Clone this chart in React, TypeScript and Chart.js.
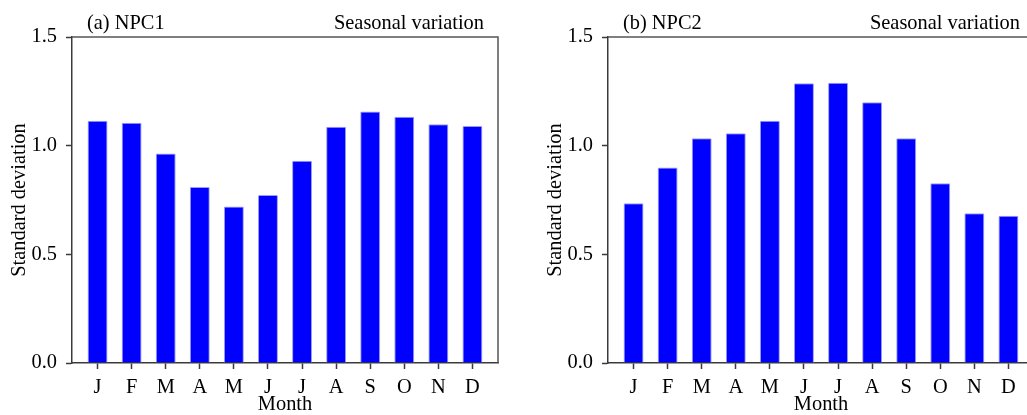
import React, { useEffect, useRef } from "react";
import { Chart, registerables } from "chart.js";

Chart.register(...registerables);

const MONTHS = ["J", "F", "M", "A", "M", "J", "J", "A", "S", "O", "N", "D"];
const NPC1_STD = [1.115, 1.106, 0.964, 0.81, 0.72, 0.773, 0.931, 1.087, 1.157, 1.133, 1.098, 1.091];
const NPC2_STD = [0.735, 0.9, 1.034, 1.057, 1.115, 1.287, 1.29, 1.2, 1.034, 0.827, 0.689, 0.678];
const Y_TICKS = [0, 0.5, 1.0, 1.5];
const PANEL_TITLES = ["(a) NPC1", "(b) NPC2"];
const RIGHT_TITLE = "Seasonal variation";

const FONT = "'Liberation Serif', 'Times New Roman', serif";
const AXIS_COLOR = "#3a3a3a";

function makeChart(canvas: HTMLCanvasElement, values: number[], title: string) {
  const titlePlugin = {
    id: "panelTitles",
    afterDraw(chart: any) {
      const { ctx, chartArea } = chart;
      ctx.save();
      ctx.strokeStyle = "#555";
      ctx.lineWidth = 1.5;
      ctx.beginPath();
      ctx.moveTo(chartArea.left, chartArea.top);
      ctx.lineTo(chartArea.right, chartArea.top);
      ctx.lineTo(chartArea.right, chartArea.bottom);
      ctx.stroke();
      ctx.fillStyle = "#000";
      ctx.font = `20.4px ${FONT}`;
      ctx.textBaseline = "alphabetic";
      ctx.textAlign = "left";
      ctx.fillText(title, chartArea.left + 15, chartArea.top - 8);
      ctx.textAlign = "right";
      ctx.fillText(RIGHT_TITLE, chartArea.right - 14, chartArea.top - 8);
      ctx.restore();
    },
  };

  return new Chart(canvas, {
    type: "bar",
    data: {
      datasets: [
        {
          data: values.map((v, i) => ({ x: i + 1, y: v })),
          backgroundColor: "#0000ff",
          borderColor: "#9c9cf4",
          borderWidth: 1,
          borderRadius: 1,
          barPercentage: 0.585,
          categoryPercentage: 1,
        },
      ],
    },
    options: {
      animation: false,
      responsive: false,
      devicePixelRatio: 1,
      layout: { padding: { top: 37, right: 22, left: 0, bottom: 0 } },
      plugins: { legend: { display: false }, tooltip: { enabled: false } },
      scales: {
        x: {
          type: "linear",
          min: 0.25,
          max: 12.75,
          offset: false,
          afterBuildTicks(scale: any) {
            scale.ticks = MONTHS.map((_, i) => ({ value: i + 1 }));
          },
          afterFit(scale: any) {
            scale.height = 52;
          },
          ticks: {
            autoSkip: false,
            maxRotation: 0,
            padding: 6,
            color: "#000",
            font: { family: FONT, size: 20.4 },
            callback: (v: any) => MONTHS[Math.round(Number(v)) - 1] ?? "",
          },
          grid: {
            drawOnChartArea: false,
            drawTicks: true,
            tickLength: 6,
            tickWidth: 1.5,
            tickColor: AXIS_COLOR,
            offset: false,
          },
          border: { display: true, color: AXIS_COLOR, width: 1.5 },
          title: {
            display: true,
            text: "Month",
            color: "#000",
            font: { family: FONT, size: 20.4, lineHeight: 1.0 },
            padding: { top: 0, bottom: 0 },
          },
        },
        y: {
          min: 0,
          max: 1.5,
          afterBuildTicks(scale: any) {
            scale.ticks = Y_TICKS.map((v) => ({ value: v }));
          },
          afterFit(scale: any) {
            scale.width = 72;
          },
          ticks: {
            padding: 9,
            color: "#000",
            font: { family: FONT, size: 20.4 },
            callback: (v: any) => Number(v).toFixed(1),
          },
          grid: {
            drawOnChartArea: false,
            drawTicks: true,
            tickLength: 6,
            tickWidth: 1.5,
            tickColor: AXIS_COLOR,
          },
          border: { display: true, color: AXIS_COLOR, width: 1.5 },
          title: {
            display: true,
            text: "Standard deviation",
            color: "#000",
            font: { family: FONT, size: 20.4 },
            padding: { top: 7, bottom: 0 },
          },
        },
      },
    },
    plugins: [titlePlugin],
  } as any);
}

export default function App() {
  const ref1 = useRef<HTMLCanvasElement>(null);
  const ref2 = useRef<HTMLCanvasElement>(null);

  useEffect(() => {
    const c1 = makeChart(ref1.current!, NPC1_STD, PANEL_TITLES[0]);
    const c2 = makeChart(ref2.current!, NPC2_STD, PANEL_TITLES[1]);
    return () => {
      c1.destroy();
      c2.destroy();
    };
  }, []);

  return (
    <div
      style={{
        position: "absolute",
        left: 0,
        top: 0,
        width: 1027,
        height: 415,
        overflow: "hidden",
        background: "#fff",
      }}
    >
      <canvas ref={ref1} width={520} height={415} style={{ position: "absolute", left: 0, top: 0 }} />
      <canvas ref={ref2} width={520} height={415} style={{ position: "absolute", left: 536, top: 0 }} />
    </div>
  );
}
